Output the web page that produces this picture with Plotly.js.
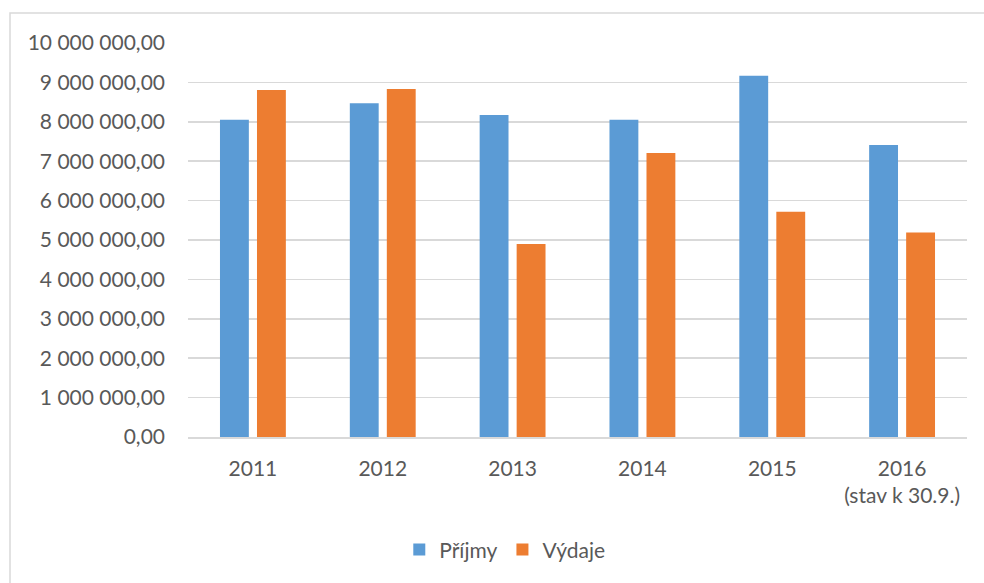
<!DOCTYPE html>
<html>
<head>
<meta charset="utf-8">
<script src="https://cdn.plot.ly/plotly-3.0.1.min.js"></script>
<style>html,body{margin:0;padding:0;background:#fff;}#chart{width:984px;height:583px;}</style>
</head>
<body>
<div id="chart"></div>
<script>
const categories = ["2011", "2012", "2013", "2014", "2015", "2016<br>(stav k 30.9.)"];
const prijmy = [8050000, 8470000, 8170000, 8050000, 9170000, 7410000];
const vydaje = [8810000, 8830000, 4900000, 7210000, 5720000, 5190000];
const seriesNames = ["Příjmy", "Výdaje"];
const yTicks = [0, 1000000, 2000000, 3000000, 4000000, 5000000, 6000000, 7000000, 8000000, 9000000, 10000000];

const FONT = 'Lato, sans-serif';
const FS = 21;
const data = [
  {type: 'bar', name: seriesNames[0], x: categories, y: prijmy, marker: {color: '#5B9BD5'}, hoverinfo: 'none'},
  {type: 'bar', name: seriesNames[1], x: categories, y: vydaje, marker: {color: '#ED7D31'}, hoverinfo: 'none'}
];
const layout = {
  width: 984, height: 583,
  margin: {l: 188, r: 17, t: 43, b: 146},
  paper_bgcolor: '#fff', plot_bgcolor: '#fff',
  separators: ', ',
  font: {family: FONT, size: FS, color: '#595959'},
  barmode: 'group', bargap: 0.43, bargroupgap: 0.22,
  xaxis: {type: 'category', showgrid: false, showline: true, linecolor: '#D9D9D9', linewidth: 1.5,
          ticks: '', ticklabelstandoff: 12, tickfont: {family: FONT, size: FS, color: '#595959'}},
  yaxis: {range: [0, 10000000], tickvals: yTicks, tickformat: ',.2f', showgrid: true, gridcolor: '#D9D9D9', gridwidth: 1.5,
          zeroline: false, showline: false, ticks: '', ticklabelstandoff: 22, tickfont: {family: FONT, size: FS, color: '#595959'}},
  showlegend: true,
  legend: {orientation: 'h', xref: 'container', yref: 'container', x: 0.513, y: 0.057, xanchor: 'center', yanchor: 'middle',
           font: {family: FONT, size: FS, color: '#595959'}, itemwidth: 30, tracegroupgap: 0},
  shapes: [{type: 'rect', xref: 'paper', yref: 'paper', x0: -0.2285, x1: 1.5, y0: -1, y1: 1.076,
            line: {color: '#D9D9D9', width: 1.5}, layer: 'below'}]
};
Plotly.newPlot('chart', data, layout, {staticPlot: true, displayModeBar: false});
</script>
</body>
</html>
